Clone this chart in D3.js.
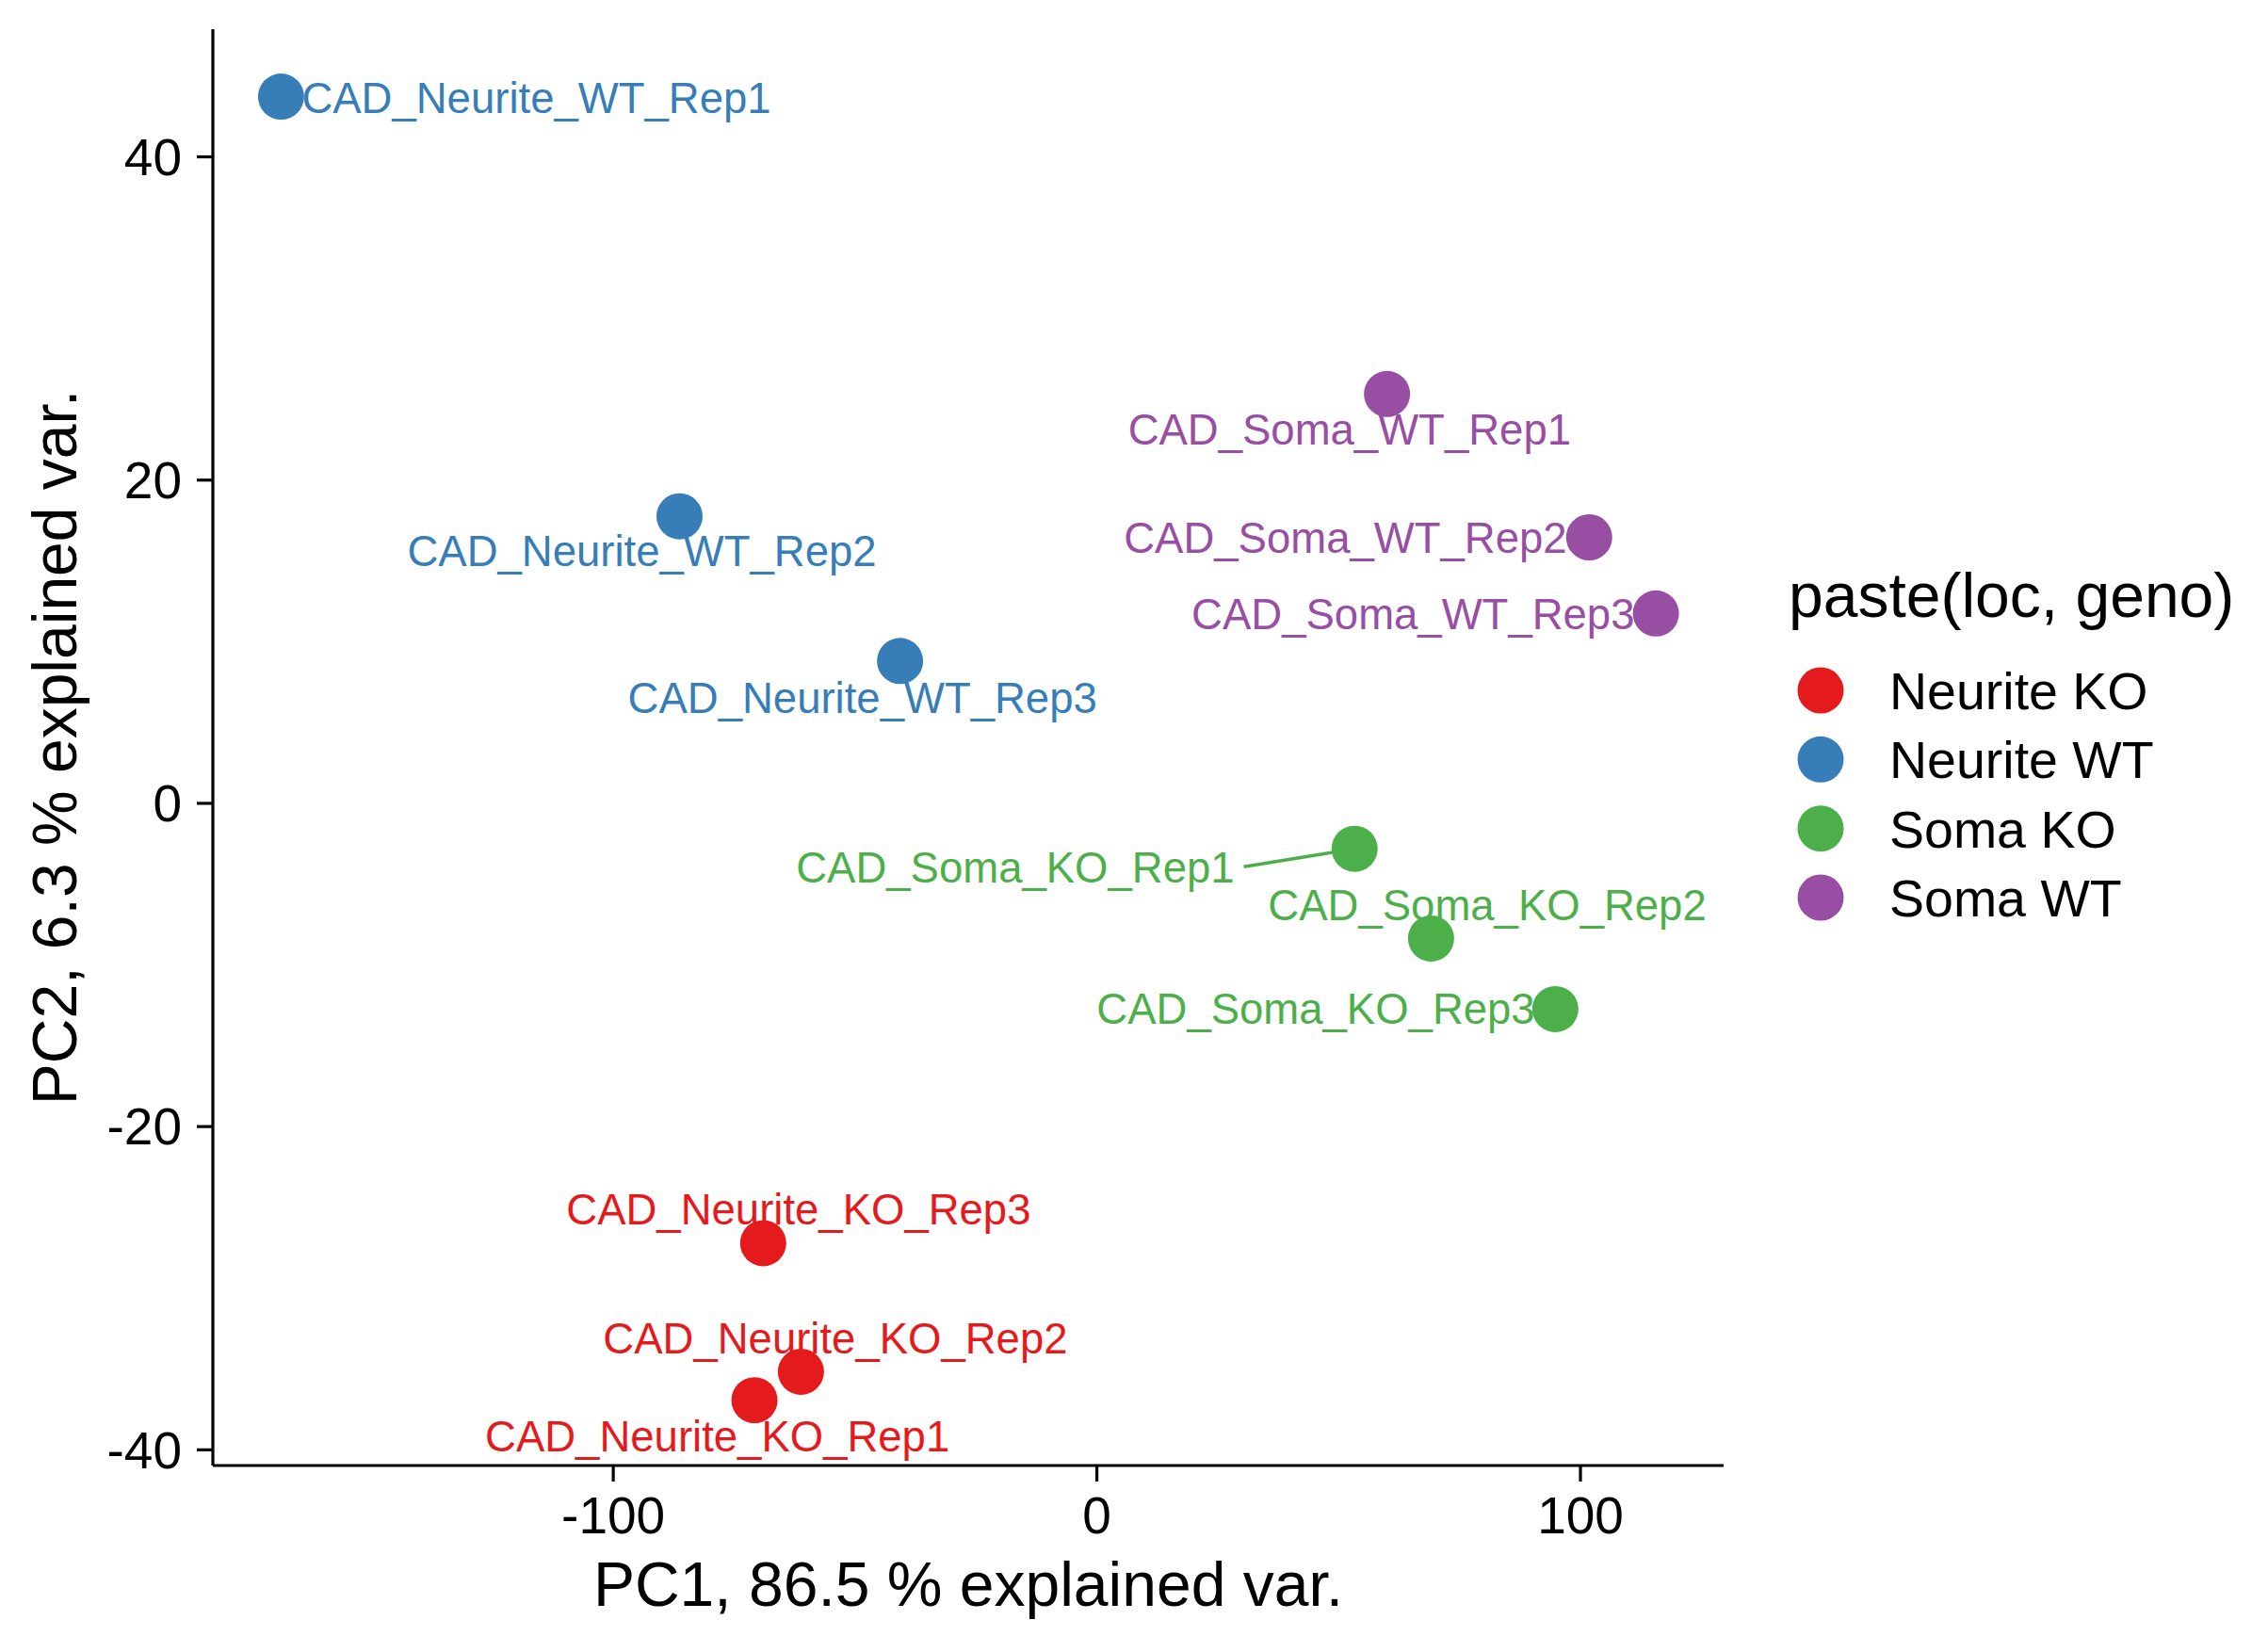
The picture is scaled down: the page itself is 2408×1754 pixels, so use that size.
<!DOCTYPE html>
<html>
<head>
<meta charset="utf-8">
<script src="https://cdn.jsdelivr.net/npm/d3@7"></script>
<style>
  html, body { margin: 0; padding: 0; background: #fff; }
  svg { display: block; }
  text { font-family: "Liberation Sans", Arial, Helvetica, sans-serif; }
</style>
</head>
<body>
<svg id="chart" width="2408" height="1754"></svg>
<script>
// ---- data ----
const samples = ["CAD_Neurite_KO_Rep1","CAD_Neurite_KO_Rep2","CAD_Neurite_KO_Rep3",
                 "CAD_Neurite_WT_Rep1","CAD_Neurite_WT_Rep2","CAD_Neurite_WT_Rep3",
                 "CAD_Soma_KO_Rep1","CAD_Soma_KO_Rep2","CAD_Soma_KO_Rep3",
                 "CAD_Soma_WT_Rep1","CAD_Soma_WT_Rep2","CAD_Soma_WT_Rep3"];
const groups  = ["Neurite KO","Neurite KO","Neurite KO",
                 "Neurite WT","Neurite WT","Neurite WT",
                 "Soma KO","Soma KO","Soma KO",
                 "Soma WT","Soma WT","Soma WT"];
const pc1 = [-70.7, -61.1, -68.9, -168.6, -86.2, -40.6, 53.4, 69.2, 94.9, 60.1, 101.9, 115.7];
const pc2 = [-36.96, -35.2, -27.24, 43.7, 17.73, 8.78, -2.84, -8.39, -12.76, 25.3, 16.43, 11.72];
const legendGroups = ["Neurite KO","Neurite WT","Soma KO","Soma WT"];
const groupColors  = ["#E41A1C","#377EB8","#4DAF4A","#984EA3"];
const xTicks = [-100, 0, 100];
const yTicks = [-40, -20, 0, 20, 40];
const xTitle = "PC1, 86.5 % explained var.";
const yTitle = "PC2, 6.3 % explained var.";
const legendTitle = "paste(loc, geno)";

// ---- layout (repelled label offsets in px relative to the point; left edge / baseline) ----
const labelOffsets = [[-286, 54],[-210, -19],[-209, -20],
                      [22, 17],[-289, 53],[-289, 55],
                      [-593, 36],[-173, -19],[-487, 16],
                      [-275, 54],[-494, 16.5],[-493, 17]];
const segmentFlags = [false,false,false,false,false,false,true,false,false,false,false,false];

const W = 2408, H = 1754;
const panel = {left: 226, right: 1830, top: 31, bottom: 1556};
const svg = d3.select("#chart");

const x = d3.scaleLinear().domain([-182.7, 129.7]).range([panel.left, panel.right]);
const y = d3.scaleLinear().domain([-41.0, 47.87]).range([panel.bottom, panel.top]);
const color = d3.scaleOrdinal().domain(legendGroups).range(groupColors);

const data = samples.map((s, i) => ({name: s, group: groups[i], x: pc1[i], y: pc2[i],
  off: labelOffsets[i], seg: segmentFlags[i]}));

// axes
const xAxis = svg.append("g").attr("transform", `translate(0,${panel.bottom})`)
  .call(d3.axisBottom(x).tickValues(xTicks).tickSize(17).tickPadding(15).tickFormat(d => String(d)));
const yAxis = svg.append("g").attr("transform", `translate(${panel.left},0)`)
  .call(d3.axisLeft(y).tickValues(yTicks).tickSize(17).tickPadding(16).tickFormat(d => String(d)));
[xAxis, yAxis].forEach(g => {
  g.select(".domain").attr("stroke", "#000").attr("stroke-width", 3.2);
  g.selectAll(".tick line").attr("stroke", "#000").attr("stroke-width", 3.2);
  g.selectAll(".tick text").attr("fill", "#000").attr("font-size", 55)
    .attr("font-family", "'Liberation Sans', Arial, Helvetica, sans-serif");
});
xAxis.select(".domain").attr("d", `M${panel.left},0H${panel.right}`);
yAxis.select(".domain").attr("d", `M0,${panel.top}V${panel.bottom}`);
xAxis.selectAll(".tick text").attr("dy", null).attr("y", 72);
yAxis.selectAll(".tick text").attr("dy", "0.35em");

// segments
const plot = svg.append("g");
plot.selectAll("line.seg").data(data.filter(d => d.seg)).enter().append("line")
  .attr("class", "seg")
  .attr("x1", d => {
    const t = plot.append("text").attr("font-size", 45.5).text(d.name);
    const w = t.node().getComputedTextLength(); t.remove();
    return x(d.x) + d.off[0] + w + 10;
  })
  .attr("y1", d => y(d.y) + d.off[1] - 17)
  .attr("x2", d => x(d.x)).attr("y2", d => y(d.y))
  .attr("stroke", d => color(d.group)).attr("stroke-width", 3.5);

// points
plot.selectAll("circle.pt").data(data).enter().append("circle")
  .attr("class", "pt")
  .attr("cx", d => x(d.x)).attr("cy", d => y(d.y)).attr("r", 24.5)
  .attr("fill", d => color(d.group));

// labels
plot.selectAll("text.lab").data(data).enter().append("text")
  .attr("class", "lab")
  .attr("x", d => x(d.x) + d.off[0]).attr("y", d => y(d.y) + d.off[1])
  .attr("font-size", 45.5).attr("fill", d => color(d.group))
  .text(d => d.name);

// axis titles
svg.append("text").attr("x", (panel.left + panel.right) / 2).attr("y", 1705)
  .attr("text-anchor", "middle").attr("font-size", 66).attr("fill", "#000").text(xTitle);
svg.append("text").attr("transform", `translate(81,${(panel.top + panel.bottom) / 2}) rotate(-90)`)
  .attr("text-anchor", "middle").attr("font-size", 66).attr("fill", "#000").text(yTitle);

// legend
const leg = svg.append("g");
leg.append("text").attr("x", 1899).attr("y", 655).attr("font-size", 66).attr("fill", "#000").text(legendTitle);
const legY = d3.scalePoint().domain(legendGroups).range([733, 953]);
legendGroups.forEach(gname => {
  leg.append("circle").attr("cx", 1933).attr("cy", legY(gname)).attr("r", 24.5).attr("fill", color(gname));
  leg.append("text").attr("x", 2006).attr("y", legY(gname) + 20).attr("font-size", 55.5)
    .attr("fill", "#000").text(gname);
});
</script>
</body>
</html>
